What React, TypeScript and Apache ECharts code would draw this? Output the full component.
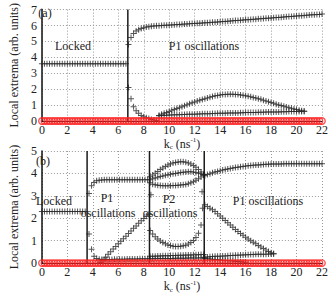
import React, { useEffect, useRef } from "react";
import * as echarts from "echarts";

// ---- data (k_c in ns^-1 swept with step 0.2; each branch: start k_c + values) ----
const STEP = 0.2;

// Panel (a)
const lockedA_x0 = 0;
const lockedA = [3.6,3.6,3.6,3.6,3.6,3.6,3.6,3.6,3.6,3.6,3.6,3.6,3.6,3.6,3.6,3.6,3.6,3.6,3.6,3.6,3.6,3.6,3.6,3.6,3.6,3.6,3.6,3.6,3.6,3.6,3.6,3.6,3.6,3.6];
const p1UpperA_x0 = 6.8;
const p1UpperA = [4.8,5.25,5.5,5.65,5.74, 5.81,5.86,5.9,5.93,5.95, 5.97,5.98,5.99,6.0,6.01, 6.02,6.03,6.04,6.05,6.06, 6.07,6.08,6.09,6.1,6.11, 6.12,6.13,6.14,6.15,6.16, 6.17,6.18,6.19,6.2,6.21, 6.22,6.24,6.25,6.26,6.27, 6.28,6.3,6.31,6.32,6.33, 6.34,6.36,6.37,6.38,6.39, 6.4,6.42,6.43,6.44,6.45, 6.46,6.48,6.49,6.5,6.51, 6.52,6.54,6.55,6.56,6.57, 6.58,6.6,6.61,6.62,6.63, 6.64,6.66,6.67,6.68,6.69, 6.7,6.73];
const p1MinA_x0 = 6.8;
const p1MinA = [2.1,1.4,0.9,0.65,0.48,0.35,0.27,0.2,0.15,0.1,0.06,0.03];
const secUpperA_x0 = 9.2;
const secUpperA = [0.35,0.42,0.48,0.54,0.6, 0.67,0.72,0.78,0.84,0.9, 0.96,1.02,1.08,1.14,1.2, 1.25,1.3,1.35,1.4,1.45, 1.5,1.54,1.58,1.61,1.64, 1.66,1.67,1.68,1.68,1.68, 1.67,1.66,1.64,1.62,1.59, 1.56,1.52,1.48,1.44,1.4, 1.36,1.31,1.26,1.21,1.16, 1.11,1.06,1.01,0.97,0.92, 0.88,0.84,0.8,0.76,0.72, 0.68,0.65,0.62];
const secLowerA_x0 = 9.2;
const secLowerA = [0.33,0.34,0.35,0.36,0.37, 0.38,0.39,0.39,0.4,0.41, 0.41,0.42,0.42,0.43,0.43, 0.44,0.44,0.45,0.45,0.46, 0.46,0.47,0.47,0.48,0.48, 0.49,0.49,0.5,0.5,0.5, 0.51,0.51,0.52,0.52,0.53, 0.53,0.53,0.54,0.54,0.55, 0.55,0.55,0.56,0.56,0.56, 0.57,0.57,0.57,0.58,0.58, 0.58,0.59,0.59,0.59,0.6, 0.6,0.6,0.61];
const zerosA = [0,0,0,0,0,0,0,0,0,0,0,0,0,0,0,0,0,0,0,0,0,0,0,0,0,0,0,0,0,0,0,0,0,0,0,0,0,0,0,0,0,0,0,0,0,0,0,0,0,0,0,0,0,0,0,0,0,0,0,0,0,0,0,0,0,0,0,0,0,0,0,0,0,0,0,0,0,0,0,0,0,0,0,0,0,0,0,0,0,0,0,0,0,0,0,0,0,0,0,0,0,0,0,0,0,0,0,0,0,0,0];
const transitionsA = [6.75];

// Panel (b)
const lockedB_x0 = 0;
const lockedB = [2.3,2.3,2.3,2.3,2.3,2.3,2.3,2.3,2.3,2.3,2.3,2.3,2.3,2.3,2.3,2.3,2.3,2.3];
const p1UpperB_x0 = 3.7;
const p1UpperB = [3.1,3.45,3.6,3.67,3.7, 3.71,3.72,3.72,3.72,3.72, 3.72,3.72,3.72,3.72,3.72, 3.72,3.72,3.72,3.72,3.72, 3.72,3.72,3.72,3.72];
const p1DropB_x0 = 3.7;
const p1DropB = [1.3,0.62,0.31,0.2,0.17, 0.16,0.16,0.16,0.16,0.16, 0.17,0.17,0.17,0.17,0.17, 0.18,0.18,0.18,0.18,0.18, 0.19,0.19,0.19,0.19];
const p1RiseB_x0 = 4.6;
const p1RiseB = [0.03,0.12,0.26,0.39,0.51, 0.63,0.74,0.86,0.97,1.09, 1.2,1.32,1.43,1.55,1.66, 1.78,1.89,1.99,2.09,2.18];
const p2TopB_x0 = 8.5;
const p2TopB = [3.85,3.93,4.01,4.09,4.17,4.24,4.31,4.37,4.42,4.46,4.49,4.51,4.52,4.52,4.5,4.47,4.42,4.35,4.27,4.17,4.06,3.95];
const p2MidB_x0 = 8.5;
const p2MidB = [3.72,3.76,3.8,3.83,3.86,3.89,3.92,3.94,3.96,3.98,4.0,4.02,4.04,4.05,4.06,4.07,4.07,4.06,4.04,4.01,3.98,3.95];
const p2BotB_x0 = 8.5;
const p2BotB = [3.58,3.52,3.49,3.47,3.46,3.45,3.45,3.45,3.45,3.46,3.46,3.47,3.48,3.49,3.51,3.54,3.58,3.63,3.69,3.76,3.84,3.92];
const p2LowArcB_x0 = 8.5;
const p2LowArcB = [1.45,1.3,1.18,1.08,0.99,0.92,0.86,0.81,0.78,0.75,0.74,0.74,0.75,0.77,0.8,0.85,0.92,1.01,1.14,1.33,1.7];
const p2LowRow1B_x0 = 8.5;
const p2LowRow1B = [0.3,0.31,0.31,0.32,0.32,0.33,0.33,0.33,0.34,0.34,0.34,0.35,0.35,0.35,0.36,0.36,0.36,0.37,0.37,0.37,0.38,0.38];
const p2LowRow2B_x0 = 8.5;
const p2LowRow2B = [0.19,0.19,0.2,0.2,0.2,0.2,0.21,0.21,0.21,0.21,0.22,0.22,0.22,0.22,0.22,0.23,0.23,0.23,0.23,0.23,0.24,0.24];
const p2StrayB: number[][] = [[8.56, 3.05], [12.58, 3.18], [12.62, 2.45]];
const p1bUpperB_x0 = 12.8;
const p1bUpperB = [3.9,3.95,3.99,4.03,4.06, 4.09,4.12,4.15,4.17,4.2, 4.22,4.24,4.26,4.28,4.3, 4.31,4.33,4.34,4.35,4.36, 4.37,4.38,4.39,4.4,4.41, 4.41,4.42,4.42,4.42,4.42, 4.42,4.43,4.43,4.43,4.43, 4.43,4.43,4.43,4.43,4.43, 4.43,4.43,4.43,4.43,4.43, 4.43,4.43];
const p1bDescB_x0 = 12.8;
const p1bDescB = [2.6,2.52,2.45,2.38,2.3, 2.2,2.1,2.0,1.9,1.8, 1.7,1.6,1.5,1.41,1.32, 1.24,1.15,1.07,1.0,0.93, 0.86,0.79,0.72,0.65,0.58, 0.52,0.46,0.42];
const p1bLowB_x0 = 12.8;
const p1bLowB = [0.26,0.27,0.28,0.29,0.3, 0.3,0.31,0.32,0.32,0.33, 0.34,0.34,0.35,0.35,0.36, 0.36,0.37,0.37,0.38,0.38, 0.39,0.39,0.39,0.4,0.4, 0.41,0.41,0.42];
const p1bShortB_x0 = 12.8;
const p1bShortB = [0.2,0.19,0.18,0.17,0.16,0.15,0.14,0.13,0.12,0.11,0.1,0.09,0.08,0.07,0.06,0.05,0.04];
const zerosB = [0,0,0,0,0,0,0,0,0,0,0,0,0,0,0,0,0,0,0,0,0,0,0,0,0,0,0,0,0,0,0,0,0,0,0,0,0,0,0,0,0,0,0,0,0,0,0,0,0,0,0,0,0,0,0,0,0,0,0,0,0,0,0,0,0,0,0,0,0,0,0,0,0,0,0,0,0,0,0,0,0,0,0,0,0,0,0,0,0,0,0,0,0,0,0,0,0,0,0,0,0,0,0,0,0,0,0,0,0,0,0];
const transitionsB = [3.55, 8.45, 12.75];

const xTicks = { min: 0, max: 22, interval: 2 };
const yMaxA = 7;
const yMaxB = 5;

// ---- helpers ----
const sweep = (x0: number, ys: number[]) => ys.map((y, i) => [+(x0 + STEP * i).toFixed(2), y]);

const FONT = "Liberation Serif";
const PLUS = "path://M2.5,0H3.5V2.5H6V3.5H3.5V6H2.5V3.5H0V2.5H2.5Z";

export default function App() {
  const ref = useRef<HTMLDivElement>(null);
  useEffect(() => {
    if (!ref.current) return;
    const chart = echarts.init(ref.current, undefined, { renderer: "svg" });

    const plus = (data: number[][], gi: number) => ({
      type: "scatter",
      xAxisIndex: gi,
      yAxisIndex: gi,
      data,
      symbol: PLUS,
      symbolSize: 6,
      itemStyle: { color: "#2a2a2a" },
      z: 3,
    });
    const ring = (data: number[][], gi: number) => ({
      type: "scatter",
      xAxisIndex: gi,
      yAxisIndex: gi,
      data,
      symbol: "circle",
      symbolSize: 6.5,
      itemStyle: { color: "rgba(0,0,0,0)", borderColor: "#ff2020", borderWidth: 1.3 },
      z: 5,
    });
    const vline = (x: number, gi: number, top: number) => ({
      type: "line",
      xAxisIndex: gi,
      yAxisIndex: gi,
      data: [[x, 0], [x, top]],
      symbol: "none",
      lineStyle: { color: "#1a1a1a", width: 1.5 },
      z: 4,
    });

    const xAxisBase = (gi: number) => ({
      type: "value",
      gridIndex: gi,
      ...xTicks,
      name: "{k|k}{sub|c}{k| (ns}{sup|-1}{k|)}",
      nameLocation: "middle",
      nameGap: 13,
      nameTextStyle: {
        rich: {
          k: { fontFamily: FONT, fontSize: 12, color: "#222", lineHeight: 14, verticalAlign: "middle" },
          sub: { fontFamily: FONT, fontSize: 7, color: "#222", lineHeight: 14, verticalAlign: "bottom" },
          sup: { fontFamily: FONT, fontSize: 7, color: "#222", lineHeight: 14, verticalAlign: "top" },
        },
      },
      axisLine: { show: true, lineStyle: { color: "#111", width: 1 } },
      axisTick: { show: false },
      axisLabel: { fontFamily: FONT, fontSize: 12, color: "#222", margin: 3 },
      splitLine: { show: true, lineStyle: { color: "#9a9a9a", type: [1, 2], width: 1 } },
    });
    const yAxisBase = (gi: number, max: number) => ({
      type: "value",
      gridIndex: gi,
      min: 0,
      max,
      interval: 1,
      name: "Local extrema (arb. units)",
      nameLocation: "middle",
      nameGap: 15,
      nameTextStyle: { fontFamily: FONT, fontSize: 12, color: "#222" },
      axisLine: { show: true, lineStyle: { color: "#111", width: 1.5 } },
      axisTick: { show: false },
      axisLabel: { fontFamily: FONT, fontSize: 12, color: "#222", margin: 5 },
      splitLine: { show: true, lineStyle: { color: "#9a9a9a", type: [1, 2], width: 1 } },
    });

    const txt = (text: string, x: number, y: number) => ({
      type: "text",
      x,
      y,
      z: 10,
      style: {
        text,
        fontFamily: FONT,
        fontSize: 12,
        fill: "#222",
        align: "center",
        verticalAlign: "middle",
      },
    });

    chart.setOption({
      animation: false,
      backgroundColor: "#fff",
      grid: [
        { left: 30, right: 13, top: 4, height: 117 },
        { left: 30, right: 13, top: 151, height: 116 },
      ],
      xAxis: [xAxisBase(0), xAxisBase(1)],
      yAxis: [yAxisBase(0, yMaxA), yAxisBase(1, yMaxB)],
      graphic: [
        txt("(a)", 45, 13),
        txt("Locked", 73, 46),
        txt("P1 oscillations", 204, 46),
        txt("(b)", 43, 161),
        txt("Locked", 54, 201),
        txt("P1", 107, 198),
        txt("oscillations", 108, 213),
        txt("P2", 169, 199),
        txt("oscillations", 170, 213),
        txt("P1 oscillations", 268, 201),
      ],
      series: [
        ...transitionsA.map((x) => vline(x, 0, yMaxA)),
        plus(sweep(lockedA_x0, lockedA), 0),
        plus(sweep(p1UpperA_x0, p1UpperA), 0),
        plus(sweep(p1MinA_x0, p1MinA), 0),
        plus(sweep(secUpperA_x0, secUpperA), 0),
        plus(sweep(secLowerA_x0, secLowerA), 0),
        ring(sweep(0, zerosA), 0),

        ...transitionsB.map((x) => vline(x, 1, yMaxB)),
        plus(sweep(lockedB_x0, lockedB), 1),
        plus(sweep(p1UpperB_x0, p1UpperB), 1),
        plus(sweep(p1DropB_x0, p1DropB), 1),
        plus(sweep(p1RiseB_x0, p1RiseB), 1),
        plus(sweep(p2TopB_x0, p2TopB), 1),
        plus(sweep(p2MidB_x0, p2MidB), 1),
        plus(sweep(p2BotB_x0, p2BotB), 1),
        plus(sweep(p2LowArcB_x0, p2LowArcB), 1),
        plus(sweep(p2LowRow1B_x0, p2LowRow1B), 1),
        plus(sweep(p2LowRow2B_x0, p2LowRow2B), 1),
        plus(p2StrayB, 1),
        plus(sweep(p1bUpperB_x0, p1bUpperB), 1),
        plus(sweep(p1bDescB_x0, p1bDescB), 1),
        plus(sweep(p1bLowB_x0, p1bLowB), 1),
        plus(sweep(p1bShortB_x0, p1bShortB), 1),
        ring(sweep(0, zerosB), 1),
      ],
    });
    return () => chart.dispose();
  }, []);
  return <div ref={ref} style={{ position: "absolute", left: 0, top: 0, width: 335, height: 294 }} />;
}
